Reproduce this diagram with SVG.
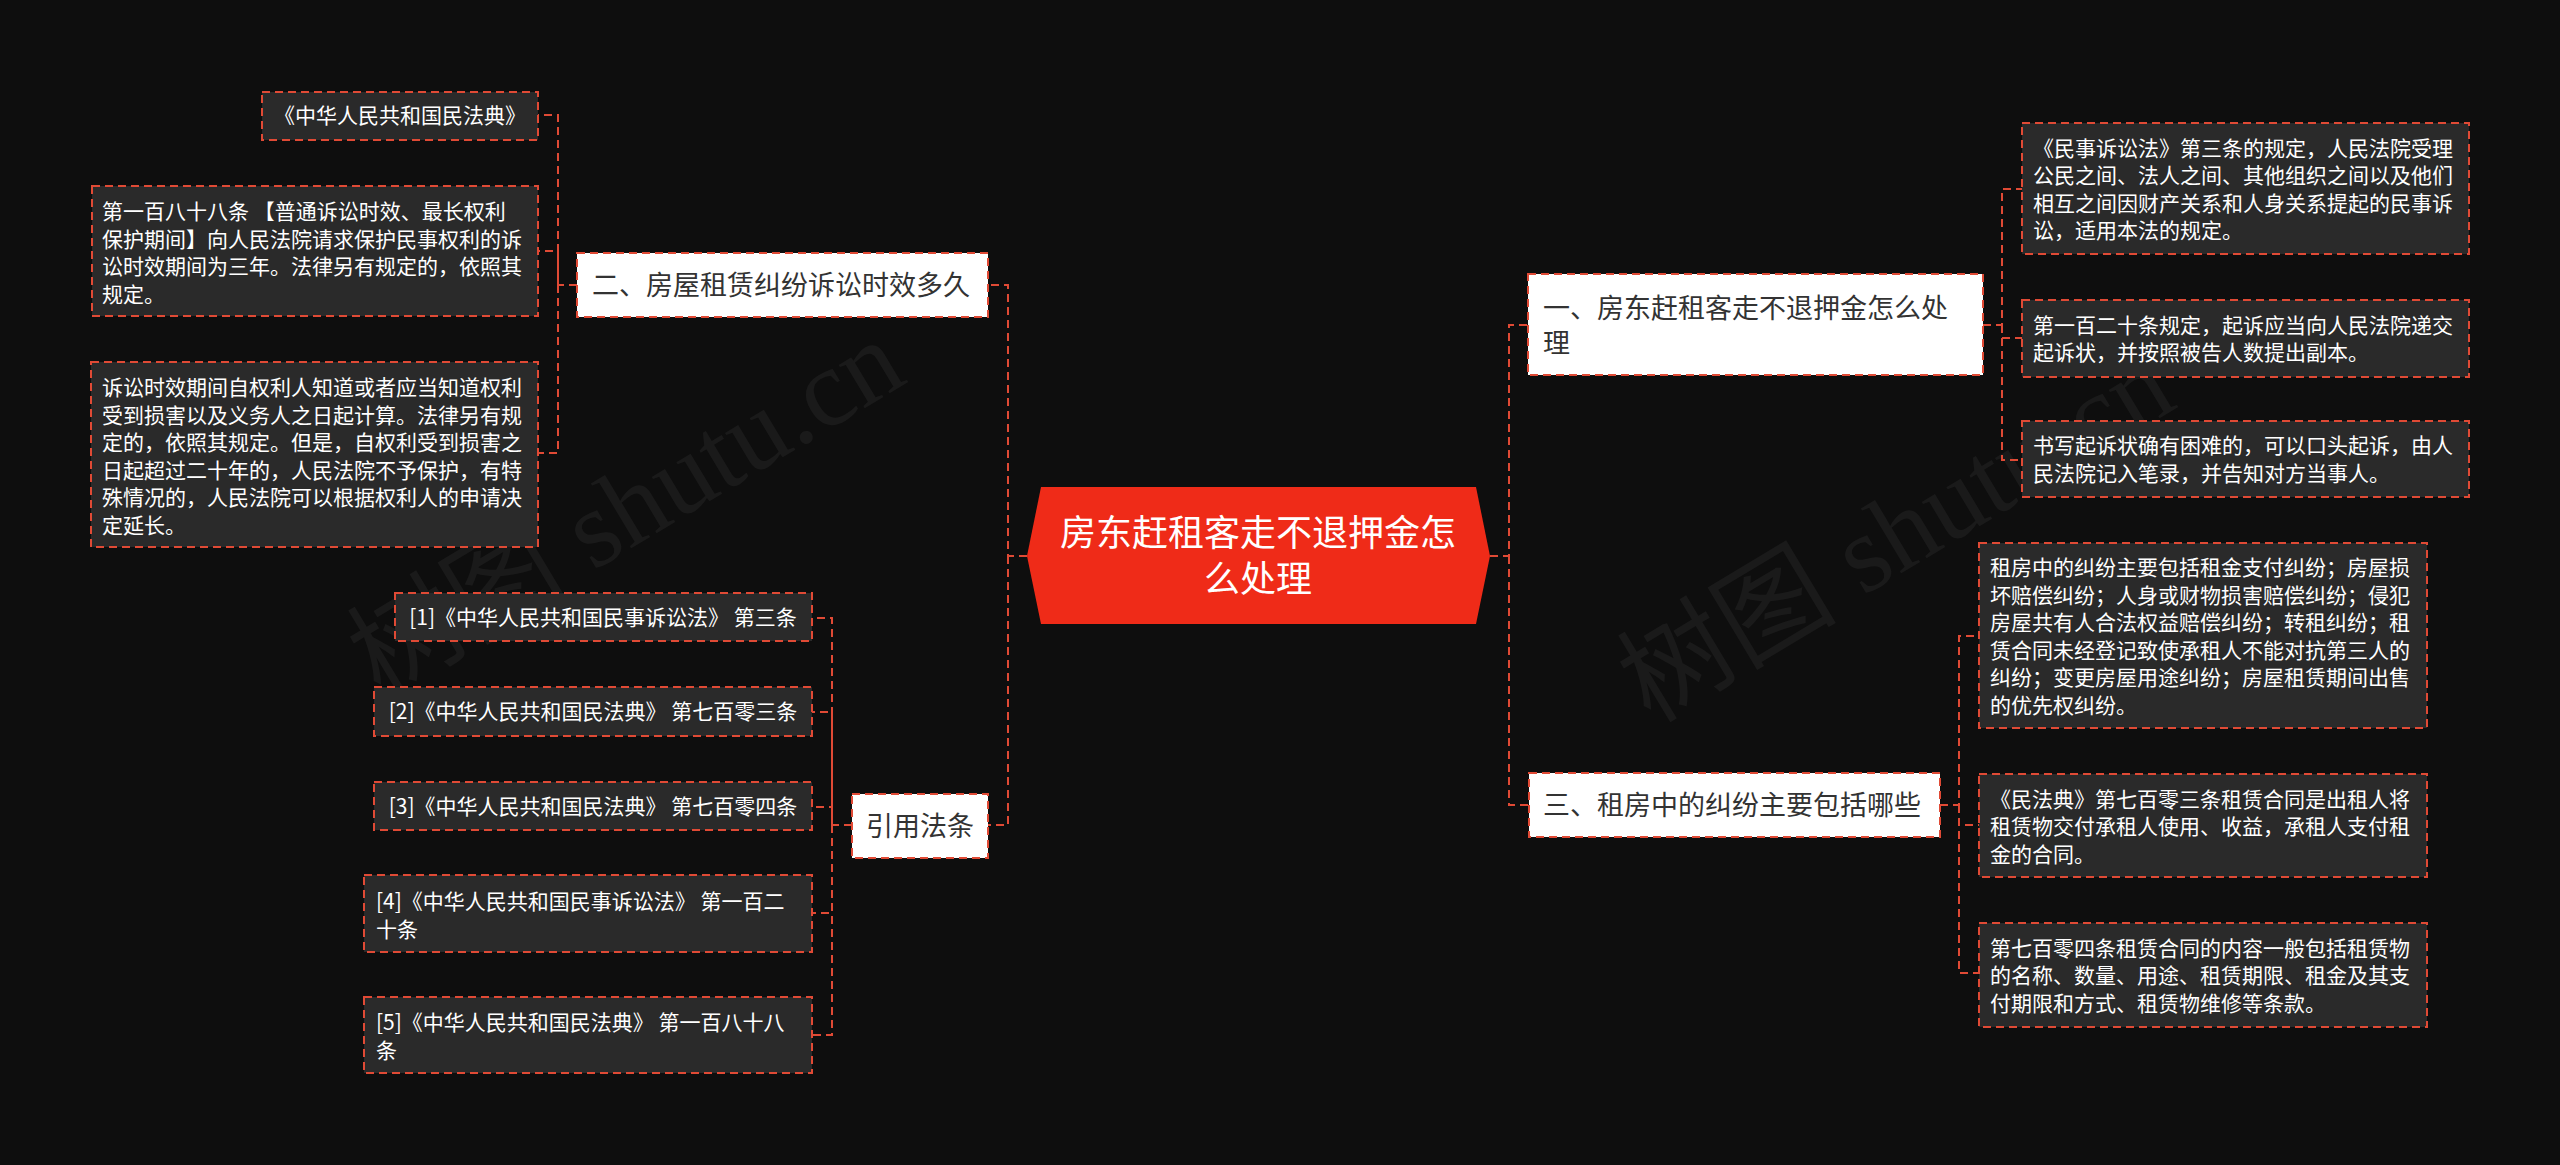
<svg xmlns="http://www.w3.org/2000/svg" width="2560" height="1165" viewBox="0 0 2560 1165">
<style>
.bg{fill:#0e0e0e}
.leaf rect{fill:#2a2a2a;stroke:#e04a35;stroke-width:2;stroke-dasharray:8 5}
.leaf text{fill:#ffffff;font-family:"Microsoft YaHei","Noto Sans CJK SC",sans-serif;font-size:21px}
.l1 rect{fill:#ffffff;stroke:#e04a35;stroke-width:2;stroke-dasharray:8 5}
.l1 text{fill:#333333;font-family:"Microsoft YaHei","Noto Sans CJK SC",sans-serif;font-size:27px}
.root polygon{fill:#ef2b18}
.root text{fill:#ffffff;font-family:"Microsoft YaHei","Noto Sans CJK SC",sans-serif;font-size:36px;text-anchor:middle}
.c{text-anchor:middle}
#connectors path{fill:none;stroke:#e04a35;stroke-width:2;stroke-dasharray:8 5}
.wm{fill:#ffffff;fill-opacity:0.05;font-family:"Liberation Serif","Noto Sans CJK SC",serif;font-size:110px}
</style>
<rect class="bg" x="0" y="0" width="2560" height="1165"/>
<g id="watermarks">
<text class="wm" transform="translate(645,540) rotate(-31)" text-anchor="middle">树图 shutu.cn</text>
<text class="wm" transform="translate(1915,565) rotate(-31)" text-anchor="middle">树图 shutu.cn</text>
</g>
<g id="connectors">
<path d="M1027,556 H1008 V285 H988"/>
<path d="M1008,556 V825 H988"/>
<path d="M1490,556 H1509 V325 H1528"/>
<path d="M1509,556 V805 H1529"/>
<path d="M577,285 H558 V115 H538"/>
<path d="M558,285 V251 H538"/>
<path d="M558,285 V453 H538"/>
<path d="M852,825 H832 V618 H812"/>
<path d="M832,825 V712 H812"/>
<path d="M832,825 V807 H812"/>
<path d="M832,825 V913 H812"/>
<path d="M832,825 V1035 H812"/>
<path d="M1983,325 H2002 V189 H2022"/>
<path d="M2002,325 V338 H2022"/>
<path d="M2002,325 V460 H2022"/>
<path d="M1940,805 H1959 V636 H1979"/>
<path d="M1959,805 V825 H1979"/>
<path d="M1959,805 V973 H1979"/>
</g>
<g id="root" class="root">
<polygon points="1041,487 1476,487 1490,556 1476,624 1041,624 1027,556"/>
<text x="1258" y="546">房东赶租客走不退押金怎</text>
<text x="1258" y="592">么处理</text>
</g>
<g id="n-er" class="l1">
<rect x="577" y="253" width="411" height="64"/>
<text x="592" y="295">二、房屋租赁纠纷诉讼时效多久</text>
</g>
<g id="n-yinyong" class="l1">
<rect x="852" y="794" width="136" height="64"/>
<text x="920" y="836" class="c">引用法条</text>
</g>
<g id="n-yi" class="l1">
<rect x="1528" y="274" width="455" height="101"/>
<text x="1543" y="318">一、房东赶租客走不退押金怎么处</text>
<text x="1543" y="353">理</text>
</g>
<g id="n-san" class="l1">
<rect x="1529" y="773" width="411" height="64"/>
<text x="1543" y="815">三、租房中的纠纷主要包括哪些</text>
</g>
<g id="l-1" class="leaf">
<rect x="262" y="92" width="276" height="48"/>
<text x="400" y="123" class="c">《中华人民共和国民法典》</text>
</g>
<g id="l-2" class="leaf">
<rect x="92" y="186" width="446" height="130"/>
<text x="102" y="219">第一百八十八条 【普通诉讼时效、最长权利</text>
<text x="102" y="246.5">保护期间】向人民法院请求保护民事权利的诉</text>
<text x="102" y="274">讼时效期间为三年。法律另有规定的，依照其</text>
<text x="102" y="301.5">规定。</text>
</g>
<g id="l-3" class="leaf">
<rect x="91" y="362" width="447" height="185"/>
<text x="102" y="395">诉讼时效期间自权利人知道或者应当知道权利</text>
<text x="102" y="422.5">受到损害以及义务人之日起计算。法律另有规</text>
<text x="102" y="450">定的，依照其规定。但是，自权利受到损害之</text>
<text x="102" y="477.5">日起超过二十年的，人民法院不予保护，有特</text>
<text x="102" y="505">殊情况的，人民法院可以根据权利人的申请决</text>
<text x="102" y="532.5">定延长。</text>
</g>
<g id="c-1" class="leaf">
<rect x="395" y="593" width="417" height="48"/>
<text x="603" y="625" class="c">[1]《中华人民共和国民事诉讼法》 第三条</text>
</g>
<g id="c-2" class="leaf">
<rect x="374" y="687" width="438" height="49"/>
<text x="593" y="719" class="c">[2]《中华人民共和国民法典》 第七百零三条</text>
</g>
<g id="c-3" class="leaf">
<rect x="374" y="782" width="438" height="48"/>
<text x="593" y="814" class="c">[3]《中华人民共和国民法典》 第七百零四条</text>
</g>
<g id="c-4" class="leaf">
<rect x="364" y="875" width="448" height="77"/>
<text x="376" y="909">[4]《中华人民共和国民事诉讼法》 第一百二</text>
<text x="376" y="936.5">十条</text>
</g>
<g id="c-5" class="leaf">
<rect x="364" y="997" width="448" height="76"/>
<text x="376" y="1030">[5]《中华人民共和国民法典》 第一百八十八</text>
<text x="376" y="1057.5">条</text>
</g>
<g id="r-1" class="leaf">
<rect x="2022" y="123" width="447" height="131"/>
<text x="2033" y="155.5">《民事诉讼法》第三条的规定，人民法院受理</text>
<text x="2033" y="183">公民之间、法人之间、其他组织之间以及他们</text>
<text x="2033" y="210.5">相互之间因财产关系和人身关系提起的民事诉</text>
<text x="2033" y="238">讼，适用本法的规定。</text>
</g>
<g id="r-2" class="leaf">
<rect x="2022" y="300" width="447" height="77"/>
<text x="2033" y="332.5">第一百二十条规定，起诉应当向人民法院递交</text>
<text x="2033" y="360">起诉状，并按照被告人数提出副本。</text>
</g>
<g id="r-3" class="leaf">
<rect x="2022" y="421" width="447" height="76"/>
<text x="2033" y="453">书写起诉状确有困难的，可以口头起诉，由人</text>
<text x="2033" y="480.5">民法院记入笔录，并告知对方当事人。</text>
</g>
<g id="r-4" class="leaf">
<rect x="1979" y="543" width="448" height="185"/>
<text x="1990" y="575">租房中的纠纷主要包括租金支付纠纷；房屋损</text>
<text x="1990" y="602.5">坏赔偿纠纷；人身或财物损害赔偿纠纷；侵犯</text>
<text x="1990" y="630">房屋共有人合法权益赔偿纠纷；转租纠纷；租</text>
<text x="1990" y="657.5">赁合同未经登记致使承租人不能对抗第三人的</text>
<text x="1990" y="685">纠纷；变更房屋用途纠纷；房屋租赁期间出售</text>
<text x="1990" y="712.5">的优先权纠纷。</text>
</g>
<g id="r-5" class="leaf">
<rect x="1979" y="774" width="448" height="103"/>
<text x="1990" y="806.5">《民法典》第七百零三条租赁合同是出租人将</text>
<text x="1990" y="834">租赁物交付承租人使用、收益，承租人支付租</text>
<text x="1990" y="861.5">金的合同。</text>
</g>
<g id="r-6" class="leaf">
<rect x="1979" y="923" width="448" height="104"/>
<text x="1990" y="955.5">第七百零四条租赁合同的内容一般包括租赁物</text>
<text x="1990" y="983">的名称、数量、用途、租赁期限、租金及其支</text>
<text x="1990" y="1010.5">付期限和方式、租赁物维修等条款。</text>
</g>
</svg>
